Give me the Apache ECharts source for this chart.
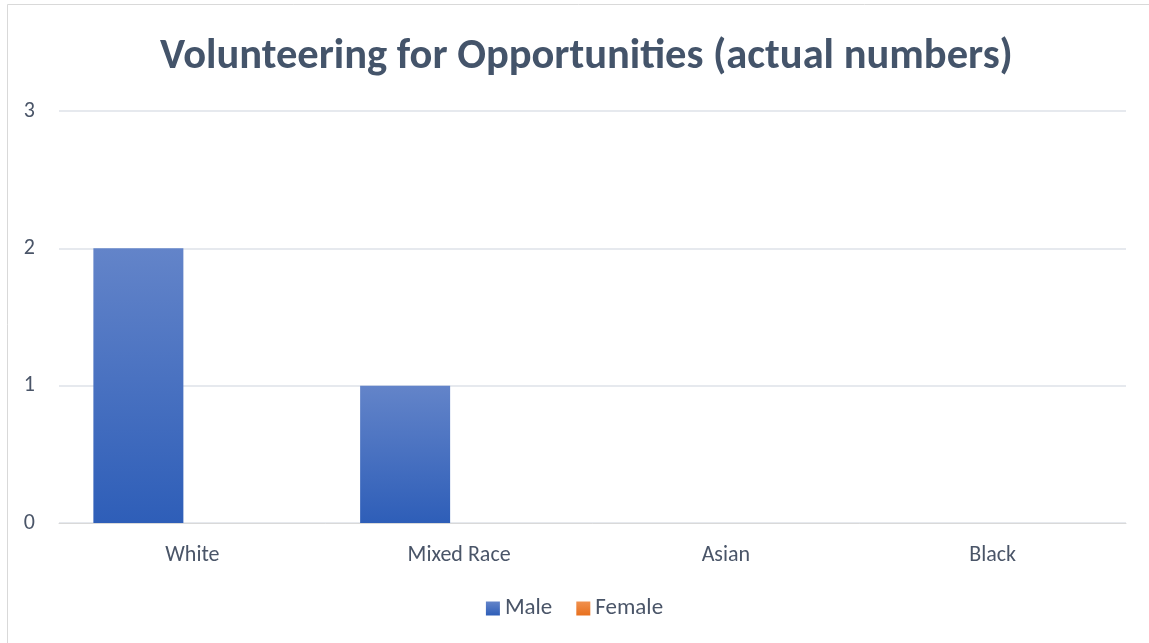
<!DOCTYPE html>
<html>
<head>
<meta charset="utf-8">
<script src="https://cdn.jsdelivr.net/npm/echarts@6/dist/echarts.min.js"></script>
<style>
  html, body { margin: 0; padding: 0; background: #fff; }
  #chart { width: 1149px; height: 643px; }
</style>
</head>
<body>
<div id="chart"></div>
<script>
// Volunteering counts by ethnicity and gender
const categories = ['White', 'Mixed Race', 'Asian', 'Black'];
const maleValues = [2, 1, 0, 0];
const femaleValues = [0, 0, 0, 0];
const seriesNames = ['Male', 'Female'];

const FONT = 'Carlito, Calibri, Lato, "Open Sans", sans-serif';
const TEXT = '#4A5568';

const chart = echarts.init(document.getElementById('chart'));
chart.setOption({
  backgroundColor: '#ffffff',
  animation: false,
  title: {
    text: 'Volunteering for Opportunities (actual numbers)',
    left: 155,
    top: 31,
    textStyle: { fontFamily: FONT, fontWeight: 'bold', fontSize: 42.5, color: '#44546A' }
  },
  graphic: [{
    type: 'rect',
    shape: { x: 7.5, y: 4.5, width: 1160, height: 660 },
    style: { fill: 'none', stroke: '#D9D9D9', lineWidth: 1 },
    silent: true
  }],
  legend: {
    data: seriesNames,
    bottom: 18,
    left: 'center',
    itemWidth: 14,
    itemHeight: 14,
    itemGap: 24,
    icon: 'rect',
    textStyle: { fontFamily: FONT, fontSize: 23, color: TEXT }
  },
  grid: { left: 59, right: 23, top: 111, bottom: 120, containLabel: false },
  xAxis: {
    type: 'category',
    data: categories,
    axisLine: { lineStyle: { color: '#D9D9D9' } },
    axisTick: { show: false },
    axisLabel: { fontFamily: FONT, fontSize: 22, color: TEXT, margin: 21 }
  },
  yAxis: {
    type: 'value',
    min: 0,
    max: 3,
    interval: 1,
    axisLine: { show: false },
    axisTick: { show: false },
    splitLine: { lineStyle: { color: '#DEE2E8', width: 1.5 } },
    axisLabel: { fontFamily: FONT, fontSize: 22, color: TEXT, margin: 24 }
  },
  series: [
    {
      name: seriesNames[0],
      type: 'bar',
      data: maleValues,
      barWidth: 90,
      barGap: '20%',
      itemStyle: {
        color: new echarts.graphic.LinearGradient(0, 0, 0, 1, [
          { offset: 0, color: '#6384C9' },
          { offset: 1, color: '#2E5EB8' }
        ])
      }
    },
    {
      name: seriesNames[1],
      type: 'bar',
      data: femaleValues,
      barWidth: 90,
      itemStyle: {
        color: new echarts.graphic.LinearGradient(0, 0, 0, 1, [
          { offset: 0, color: '#F0914F' },
          { offset: 1, color: '#E8701E' }
        ])
      }
    }
  ]
});
</script>
</body>
</html>
